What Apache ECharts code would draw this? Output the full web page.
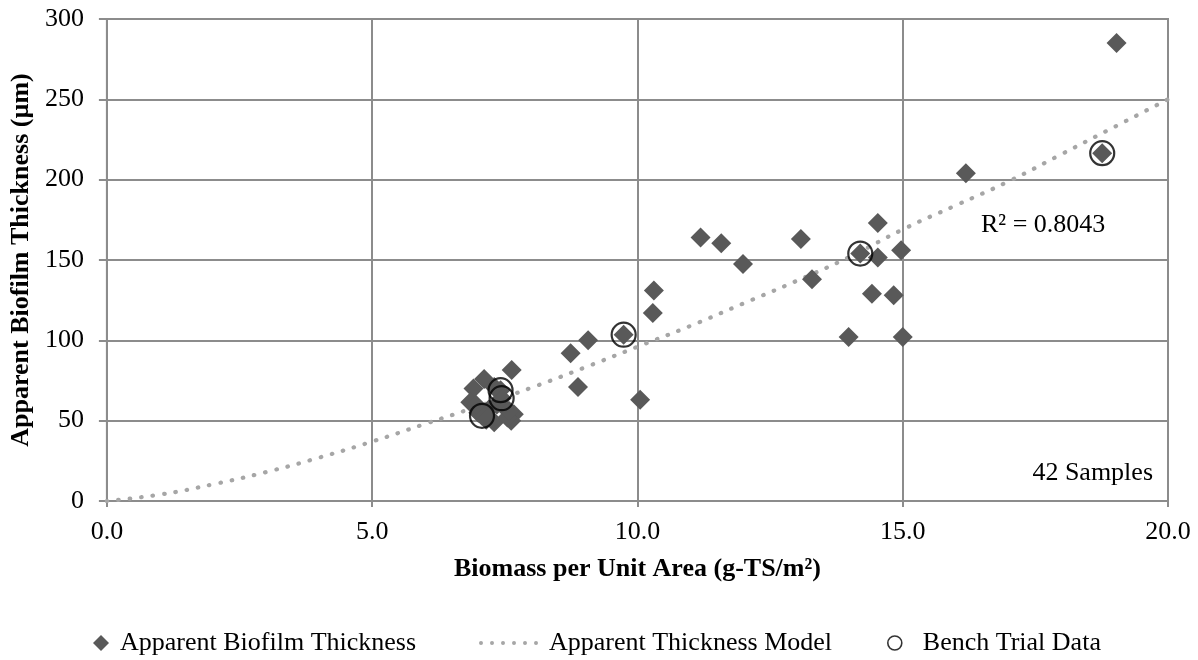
<!DOCTYPE html>
<html>
<head>
<meta charset="utf-8">
<script src="https://cdn.jsdelivr.net/npm/echarts@6/dist/echarts.min.js"></script>
<style>
  html, body { margin: 0; padding: 0; background: #fff; }
  #chart { width: 1198px; height: 660px; }
</style>
</head>
<body>
<div id="chart"></div>
<script>
// Biomass per unit area (g-TS/m²) and apparent biofilm thickness (µm), 42 samples
const biomass = [
  19.03, 18.76, 16.19, 14.53, 14.20, 14.53, 14.97, 13.08, 13.29, 14.42,
  14.83, 13.98, 15.00, 11.19, 11.58, 11.99, 10.31, 10.29, 9.74, 9.07,
  8.74, 8.88, 10.05,
  7.63, 7.11, 6.91, 6.85, 7.07, 7.42, 7.44, 7.30, 7.67, 7.62,
  7.20, 7.50, 7.00, 7.55, 7.15, 7.35, 7.58, 6.95, 7.30
];
const thickness = [
  285, 216.5, 204, 173, 154, 151.5, 156, 163, 138, 129,
  128, 102, 102, 164, 160.5, 147.5, 131, 117, 103.5, 100,
  92, 71, 63,
  81.5, 76, 70, 61.5, 53, 69, 64, 49, 54, 50,
  57, 58, 55, 52, 50.5, 60, 56, 60, 71
];

// Bench trial samples (subset of the above)
const benchBiomass = [18.76, 14.20, 9.74, 7.42, 7.44, 7.07];
const benchThickness = [216.5, 154, 103.5, 69, 64, 53];

// Apparent thickness model curve, read at whole-number biomass values
const modelBiomass = [0, 1, 2, 3, 4, 5, 6, 7, 8, 9, 10, 11, 12, 13, 14, 15, 16, 17, 18, 19, 20];
const modelThickness = [0, 4, 10.4, 18, 27, 37, 48, 59, 70.5, 83, 96, 109, 123, 137, 152, 169, 184, 199, 216, 233, 250];

const xTicks = [0, 5, 10, 15, 20];
const yTicks = [0, 50, 100, 150, 200, 250, 300];

const FONT = '"Liberation Serif", "Times New Roman", serif';
const FS = 26;
const GRID = '#8c8c8c';
const MARK = '#595959';
const MODEL = '#a6a6a6';

const pairs = (xs, ys) => xs.map((x, i) => [x, ys[i]]);

// six round dots, used as the legend icon of the dotted model line
const dottedIcon = 'path://' + [0, 1, 2, 3, 4, 5].map(i => {
  const cx = 2 + i * 11;
  return `M${cx - 2},2a2,2 0 1,0 4,0a2,2 0 1,0 -4,0Z`;
}).join(' ');

const legendText = { fontFamily: FONT, fontSize: FS, color: '#000' };

const chart = echarts.init(document.getElementById('chart'), null, { renderer: 'canvas' });

chart.setOption({
  animation: false,
  backgroundColor: '#ffffff',
  textStyle: { fontFamily: FONT, color: '#000' },
  grid: { left: 106, right: 30, top: 19, bottom: 159, show: true, borderColor: GRID, borderWidth: 2 },
  xAxis: {
    type: 'value',
    min: xTicks[0], max: xTicks[xTicks.length - 1], interval: 5,
    name: 'Biomass per Unit Area (g-TS/m²)',
    nameLocation: 'middle', nameGap: 55,
    nameTextStyle: { fontFamily: FONT, fontWeight: 'bold', fontSize: FS, color: '#000' },
    axisLine: { lineStyle: { color: GRID, width: 2 } },
    axisTick: { show: true, inside: false, length: 6, lineStyle: { color: GRID, width: 2 } },
    axisLabel: { fontFamily: FONT, fontSize: FS, color: '#000', margin: 18,
                 formatter: v => v.toFixed(1) },
    splitLine: { show: true, lineStyle: { color: GRID, width: 2 } }
  },
  yAxis: {
    type: 'value',
    min: yTicks[0], max: yTicks[yTicks.length - 1], interval: 50,
    name: 'Apparent Biofilm Thickness (µm)',
    nameLocation: 'middle', nameGap: 71, nameRotate: 90,
    nameTextStyle: { fontFamily: FONT, fontWeight: 'bold', fontSize: FS, color: '#000' },
    axisLine: { show: true, lineStyle: { color: GRID, width: 2 } },
    axisTick: { show: true, inside: false, length: 8, lineStyle: { color: GRID, width: 2 } },
    axisLabel: { fontFamily: FONT, fontSize: FS, color: '#000', margin: 23 },
    splitLine: { show: true, lineStyle: { color: GRID, width: 2 } }
  },
  legend: [
    {
      data: [{ name: 'Apparent Biofilm Thickness', icon: 'diamond' }],
      left: 88, top: 625, itemWidth: 16, itemHeight: 16,
      textStyle: Object.assign({ padding: [0, 0, 0, 6] }, legendText)
    },
    {
      data: [{ name: 'Apparent Thickness Model', icon: dottedIcon }],
      left: 474, top: 625, itemWidth: 59, itemHeight: 16,
      textStyle: Object.assign({ padding: [0, 0, 0, 6] }, legendText)
    },
    {
      data: [{
        name: 'Bench Trial Data', icon: 'circle',
        itemStyle: { color: 'rgba(0,0,0,0)', borderColor: '#000', borderWidth: 1.6 }
      }],
      left: 882, top: 625, itemWidth: 14, itemHeight: 14,
      textStyle: Object.assign({ padding: [0, 0, 0, 16] }, legendText)
    }
  ],
  series: [
    {
      name: 'Apparent Thickness Model',
      type: 'line',
      data: pairs(modelBiomass, modelThickness),
      smooth: true,
      showSymbol: false,
      symbol: 'none',
      z: 2,
      lineStyle: { color: MODEL, width: 4.2, type: [0.5, 11], cap: 'round' },
      itemStyle: { color: MODEL }
    },
    {
      name: 'Apparent Biofilm Thickness',
      type: 'scatter',
      data: pairs(biomass, thickness),
      symbol: 'diamond',
      symbolSize: 20,
      z: 3,
      itemStyle: { color: MARK, opacity: 1 }
    },
    {
      name: 'Bench Trial Data',
      type: 'scatter',
      data: pairs(benchBiomass, benchThickness),
      symbol: 'circle',
      symbolSize: 24,
      z: 4,
      itemStyle: { color: 'rgba(0,0,0,0)', borderColor: '#000', borderWidth: 2.2 }
    }
  ],
  graphic: [
    {
      type: 'text', right: 45, top: 460, z: 10,
      style: { text: '42 Samples', fontFamily: FONT, fontSize: FS, fill: '#000' }
    },
    {
      type: 'text', left: 981, top: 212, z: 10,
      style: { text: 'R² = 0.8043', fontFamily: FONT, fontSize: FS, fill: '#000' }
    }
  ]
});
</script>
</body>
</html>
